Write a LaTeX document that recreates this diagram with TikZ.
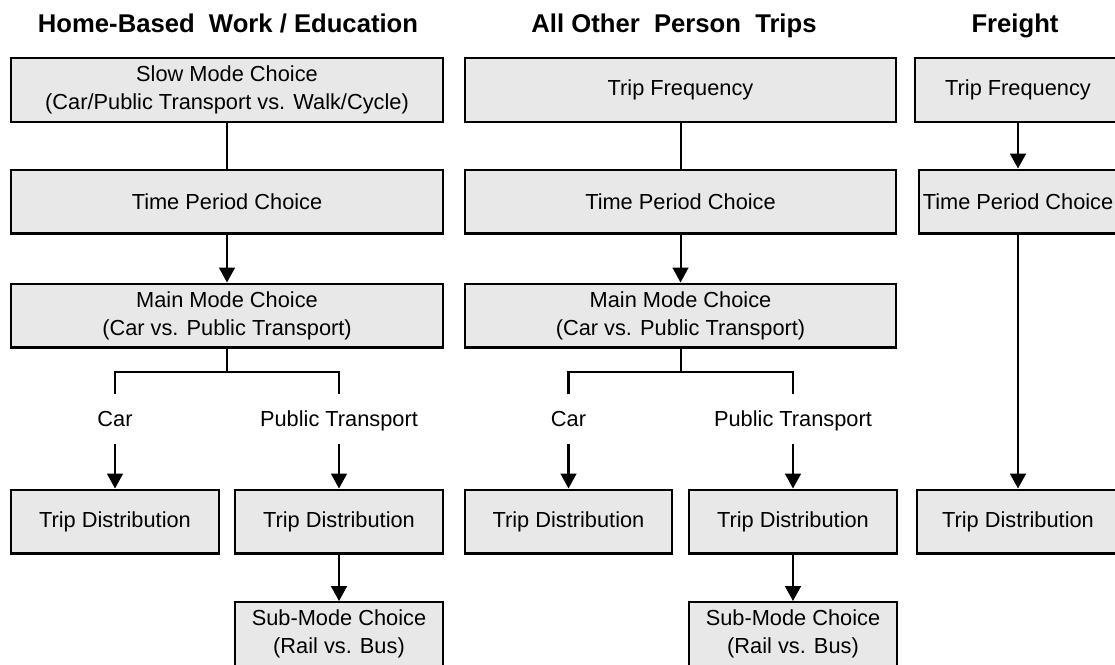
\documentclass[tikz,border=0pt]{standalone}
\usepackage{fontspec}
\setmainfont{Liberation Sans}
\usetikzlibrary{arrows.meta}
\definecolor{boxgray}{RGB}{232,232,232}

\begin{document}
\begin{tikzpicture}[x=0.02cm, y=-0.02cm, line width=1.15pt]
	\tikzstyle{stage}=[draw=black, fill=boxgray, align=center, inner sep=0pt, minimum height=1.28cm, font=\fontsize{12.4}{16}\selectfont]
	\tikzstyle{wide}=[stage, minimum width=8.64cm]
	\tikzstyle{half}=[stage, minimum width=4.16cm]
	\tikzstyle{branch}=[inner sep=0pt, minimum height=0.96cm, text height=9pt, text depth=0pt, font=\fontsize{12.4}{16}\selectfont]
	\tikzstyle{title}=[anchor=base, inner sep=0pt, font=\fontsize{14.6}{17}\selectfont\bfseries]
	\tikzstyle{flow}=[-{Triangle[length=8.5pt,width=9pt]}]
	\useasboundingbox (0,0) rectangle (1115,664);

	% column titles
	\node [title] (hbTitle) at (228,32) {Home-Based\ \ Work / Education};
	\node [title] (otTitle) at (674,32) {All Other\ \ Person\ \ Trips};
	\node [title] (frTitle) at (1015,32) {Freight};

	% home-based work / education
	\node [wide] (hbSlow) at (227,90) {Slow Mode Choice\\(Car/Public Transport vs. Walk/Cycle)};
	\node [wide] (hbTime) at (227,201.5) {Time Period Choice};
	\node [wide] (hbMain) at (227,315.5) {Main Mode Choice\\(Car vs. Public Transport)};
	\node [branch] (hbCar) at (115,419) {Car};
	\node [branch] (hbPT) at (339,419) {Public Transport};
	\node [half] (hbCarDist) at (115,521.5) {Trip Distribution};
	\node [half] (hbPTDist) at (339,521.5) {Trip Distribution};
	\node [half] (hbSub) at (339,634) {Sub-Mode Choice\\(Rail vs. Bus)};
	\coordinate (hbFork) at (227,372);

	\draw (hbSlow.south) -- (hbTime.north);
	\draw [flow] (hbTime.south) -- (hbMain.north);
	\draw (hbMain.south) -- (hbFork);
	\draw (hbCar.north) |- (hbFork) -| (hbPT.north);
	\draw [flow] (hbCar.south) -- (hbCarDist.north);
	\draw [flow] (hbPT.south) -- (hbPTDist.north);
	\draw [flow] (hbPTDist.south) -- (hbSub.north);

	% all other person trips
	\node [wide] (otFreq) at (680.5,90) {Trip Frequency};
	\node [wide] (otTime) at (680.5,201.5) {Time Period Choice};
	\node [wide] (otMain) at (680.5,315.5) {Main Mode Choice\\(Car vs. Public Transport)};
	\node [branch] (otCar) at (568.5,419) {Car};
	\node [branch] (otPT) at (793,419) {Public Transport};
	\node [half] (otCarDist) at (568.5,521.5) {Trip Distribution};
	\node [half] (otPTDist) at (793,521.5) {Trip Distribution};
	\node [half] (otSub) at (793,634) {Sub-Mode Choice\\(Rail vs. Bus)};
	\coordinate (otFork) at (680.5,372);

	\draw (otFreq.south) -- (otTime.north);
	\draw [flow] (otTime.south) -- (otMain.north);
	\draw (otMain.south) -- (otFork);
	\draw (otCar.north) |- (otFork) -| (otPT.north);
	\draw [flow] (otCar.south) -- (otCarDist.north);
	\draw [flow] (otPT.south) -- (otPTDist.north);
	\draw [flow] (otPTDist.south) -- (otSub.north);

	% freight
	\node [stage, minimum width=4.12cm] (frFreq) at (1018,90) {Trip Frequency};
	\node [stage, minimum width=3.96cm] (frTime) at (1018,201.5) {Time Period Choice};
	\node [stage, minimum width=4.04cm] (frDist) at (1018,521.5) {Trip Distribution};

	\draw [flow] (frFreq.south) -- (frTime.north);
	\draw [flow] (frTime.south) -- (frDist.north);
\end{tikzpicture}
\end{document}
